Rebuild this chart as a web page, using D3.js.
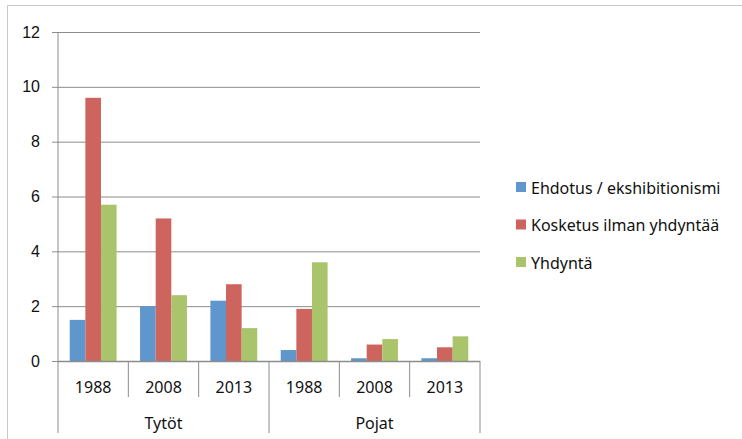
<!DOCTYPE html>
<html>
<head>
<meta charset="utf-8">
<script src="https://cdn.jsdelivr.net/npm/d3@7"></script>
<style>
  html, body { margin: 0; padding: 0; background: #fff; }
  svg { display: block; font-family: "Noto Sans", "Open Sans", sans-serif; }
  .y-axis path { display: none; }
  .y-axis line { stroke: #8c8c8c; }
  .y-axis text { fill: #111; font-size: 16px; }
</style>
</head>
<body>
<svg id="chart" width="742" height="439"></svg>
<script>
"use strict";

// ── Data ─────────────────────────────────────────────────────────────────────
const groups = ["Tytöt", "Pojat"];
const years = ["1988", "2008", "2013"];
const seriesNames = ["Ehdotus / ekshibitionismi", "Kosketus ilman yhdyntää", "Yhdyntä"];
const seriesColors = ["#5f96cb", "#cd645e", "#a9c46b"];

// one value per (group, year) in order Tytöt 1988..2013, Pojat 1988..2013
const ehdotus  = [1.5, 2.0, 2.2, 0.4, 0.1, 0.1];
const kosketus = [9.6, 5.2, 2.8, 1.9, 0.6, 0.5];
const yhdynta  = [5.7, 2.4, 1.2, 3.6, 0.8, 0.9];
const yTicks = [0, 2, 4, 6, 8, 10, 12];

// ── Layout ───────────────────────────────────────────────────────────────────
const plot = { left: 58, right: 480, top: 32, bottom: 361 };
const svg = d3.select("#chart");

const cats = [];
groups.forEach(g => years.forEach(y => cats.push({ group: g, year: y, key: g + "-" + y })));
const rows = cats.map((c, i) => ({ ...c, values: [ehdotus[i], kosketus[i], yhdynta[i]] }));

const x0 = d3.scaleBand().domain(cats.map(c => c.key)).range([plot.left, plot.right]);
const x1 = d3.scaleBand().domain(d3.range(seriesNames.length))
  .range([0, x0.bandwidth()]).paddingInner(0).paddingOuter(0.75);
const y = d3.scaleLinear().domain([0, 12]).range([plot.bottom, plot.top]);

// outer chart border (left + top)
svg.append("path")
  .attr("d", "M7.5,439 V5.5 H742")
  .attr("fill", "none").attr("stroke", "#c8c8c8");

// gridlines + y axis
svg.append("g")
  .attr("class", "y-axis")
  .attr("transform", `translate(${plot.left},0)`)
  .call(d3.axisLeft(y).tickValues(yTicks).tickSize(6).tickPadding(12))
  .call(g => g.selectAll(".tick").append("line")
    .attr("x2", plot.right - plot.left).attr("stroke", "#8c8c8c"));

// bars
const catG = svg.append("g").selectAll("g")
  .data(rows).join("g")
  .attr("transform", d => `translate(${x0(d.key)},0)`);

catG.selectAll("rect")
  .data(d => d.values.map((v, i) => ({ i, v })))
  .join("rect")
  .attr("x", d => x1(d.i))
  .attr("width", x1.bandwidth())
  .attr("y", d => y(d.v))
  .attr("height", d => y(0) - y(d.v))
  .attr("fill", d => seriesColors[d.i]);

// axis lines
const axisColor = "#8c8c8c";
svg.append("line")
  .attr("x1", plot.left).attr("x2", plot.left)
  .attr("y1", plot.top).attr("y2", plot.bottom)
  .attr("stroke", axisColor);
svg.append("line")
  .attr("x1", plot.left).attr("x2", plot.right)
  .attr("y1", plot.bottom + 0.5).attr("y2", plot.bottom + 0.5)
  .attr("stroke", axisColor).attr("stroke-width", 1.5);

// category dividers below the axis
const edges = cats.map(c => x0(c.key)).concat([plot.right]);
svg.append("g").selectAll("line")
  .data(edges).join("line")
  .attr("x1", d => d).attr("x2", d => d)
  .attr("y1", plot.bottom)
  .attr("y2", (d, i) => (i % years.length === 0) ? 433 : 397)
  .attr("stroke", axisColor);

// year labels
svg.append("g").selectAll("text")
  .data(cats).join("text")
  .attr("x", d => x0(d.key) + x0.bandwidth() / 2)
  .attr("y", 387)
  .attr("dy", "0.35em")
  .attr("text-anchor", "middle")
  .attr("font-size", 16)
  .attr("fill", "#111")
  .text(d => d.year);

// group labels
svg.append("g").selectAll("text")
  .data(groups).join("text")
  .attr("x", (g, i) => (x0(g + "-" + years[0]) + x0(g + "-" + years[years.length - 1]) + x0.bandwidth()) / 2)
  .attr("y", 423)
  .attr("dy", "0.35em")
  .attr("text-anchor", "middle")
  .attr("font-size", 16)
  .attr("fill", "#111")
  .text(d => d);

// legend
const legend = svg.append("g").attr("transform", "translate(516,188)");
const item = legend.selectAll("g")
  .data(seriesNames).join("g")
  .attr("transform", (d, i) => `translate(0,${i * 37.5})`);
item.append("rect")
  .attr("x", 0).attr("y", -6).attr("width", 10).attr("height", 10)
  .attr("fill", (d, i) => seriesColors[i]);
item.append("text")
  .attr("x", 15).attr("y", 0).attr("dy", "0.35em")
  .attr("font-size", 16)
  .attr("fill", "#111")
  .text(d => d);
</script>
</body>
</html>
